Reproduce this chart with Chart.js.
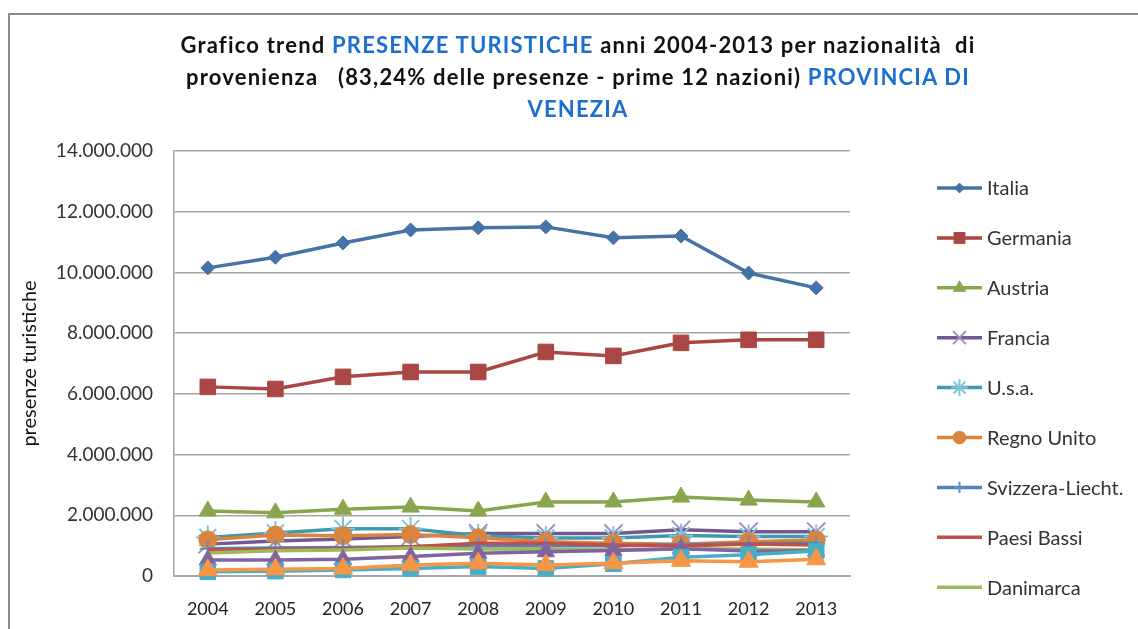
<!DOCTYPE html>
<html lang="it">
<head>
  <meta charset="UTF-8">
  <title>Presenze turistiche Provincia di Venezia 2004-2013</title>
  <script src="https://cdn.jsdelivr.net/npm/chart.js@4"></script>
  <style>
    html, body { margin: 0; padding: 0; background: #fff; overflow: hidden; }
    body { width: 1138px; height: 629px; position: relative; font-family: Lato, 'Open Sans', sans-serif; }
    .frame {
      position: absolute; left: 8px; top: 13px; width: 1200px; height: 700px;
      border: 2px solid #8c8c8c; box-sizing: border-box;
    }
    .titolo {
      position: absolute; left: 0; top: 29px; width: 1156px;
      text-align: center; font-weight: bold; font-size: 22px; line-height: 32px; color: #111;
      letter-spacing: 1.2px;
    }
    .titolo .blu { color: #1c6fd1; }
    #grafico { position: absolute; left: 0; top: 0; }
  </style>
</head>
<body>
  <div class="frame"></div>
  <canvas id="grafico" width="1138" height="629"></canvas>
  <div class="titolo">
    Grafico trend <span class="blu">PRESENZE TURISTICHE</span> anni 2004-2013 per nazionalità&nbsp; di<br>
    provenienza&nbsp;&nbsp; (83,24% delle presenze - prime 12 nazioni) <span class="blu">PROVINCIA DI</span><br>
    <span class="blu">VENEZIA</span>
  </div>

  <script>
    // anni e presenze
    const anni = ['2004', '2005', '2006', '2007', '2008', '2009', '2010', '2011', '2012', '2013'];

    const italia     = [10150000, 10500000, 10970000, 11400000, 11470000, 11500000, 11140000, 11200000, 9980000, 9490000];
    const germania   = [6230000, 6160000, 6560000, 6720000, 6720000, 7380000, 7250000, 7680000, 7780000, 7780000];
    const austria    = [2140000, 2080000, 2200000, 2270000, 2140000, 2440000, 2440000, 2600000, 2500000, 2440000];
    const francia    = [1050000, 1150000, 1220000, 1300000, 1400000, 1400000, 1400000, 1520000, 1460000, 1460000];
    const usa        = [1270000, 1420000, 1560000, 1560000, 1330000, 1250000, 1250000, 1330000, 1300000, 1300000];
    const regnoUnito = [1190000, 1350000, 1330000, 1370000, 1260000, 1130000, 1080000, 1050000, 1130000, 1190000];
    const svizzera   = [900000, 920000, 940000, 960000, 1000000, 1000000, 1000000, 1030000, 1060000, 1080000];
    const paesiBassi = [860000, 880000, 900000, 960000, 1080000, 1080000, 1020000, 990000, 1050000, 1020000];
    const danimarca  = [760000, 830000, 860000, 920000, 890000, 890000, 860000, 890000, 890000, 860000];
    const belgio     = [530000, 530000, 550000, 640000, 750000, 800000, 840000, 900000, 820000, 820000];
    const russia     = [140000, 160000, 200000, 250000, 310000, 250000, 400000, 620000, 700000, 820000];
    const spagna     = [200000, 220000, 250000, 360000, 420000, 360000, 420000, 500000, 470000, 550000];

    const yTicks = [0, 2000000, 4000000, 6000000, 8000000, 10000000, 12000000, 14000000];

    function serie(label, data, color, style, radius, markerColor, markerWidth) {
      return {
        label: label,
        data: data,
        borderColor: color,
        backgroundColor: color,
        borderWidth: 3.5,
        tension: 0,
        clip: false,
        pointStyle: style,
        pointRadius: radius,
        pointHoverRadius: radius,
        pointBackgroundColor: markerColor || color,
        pointBorderColor: markerColor || color,
        pointBorderWidth: markerWidth || 1
      };
    }

    const datasets = [
      serie('Italia', italia, '#4572a7', 'rectRot', 7),
      serie('Germania', germania, '#aa4643', 'rect', 11),
      serie('Austria', austria, '#89a54e', 'triangle', 10),
      serie('Francia', francia, '#71588f', 'crossRot', 13, '#a292c0', 2),
      serie('U.s.a.', usa, '#4198af', 'star', 12, '#7cc4d8', 2),
      serie('Regno Unito', regnoUnito, '#db843d', 'circle', 9),
      serie('Svizzera-Liecht.', svizzera, '#4f81bd', 'cross', 8, '#5b8fd0', 2),
      serie('Paesi Bassi', paesiBassi, '#c0504d', 'circle', 0),
      serie('Danimarca', danimarca, '#9bbb59', 'circle', 0),
      serie('Belgio', belgio, '#8064a2', 'triangle', 10),
      serie('Russia', russia, '#4bacc6', 'rect', 11),
      serie('Spagna', spagna, '#f79646', 'triangle', 11)
    ];
    // come in Excel: le ultime serie disegnate sopra
    datasets.forEach((d, i) => { d.order = datasets.length - i; });

    // legenda laterale (solo le prime 9 voci, come nell'originale)
    const legendaLaterale = {
      id: 'legendaLaterale',
      afterDraw(chart, args, opts) {
        const ctx = chart.ctx;
        const x0 = chart.chartArea.right + opts.offsetX;
        let y = chart.chartArea.top + opts.offsetY;
        ctx.save();
        chart.data.datasets.slice(0, opts.count).forEach(ds => {
          ctx.strokeStyle = ds.borderColor;
          ctx.lineWidth = ds.borderWidth;
          ctx.beginPath();
          ctx.moveTo(x0, y);
          ctx.lineTo(x0 + 45, y);
          ctx.stroke();
          if (ds.pointRadius > 0) {
            ctx.fillStyle = ds.pointBackgroundColor;
            ctx.strokeStyle = ds.pointBorderColor;
            ctx.lineWidth = ds.pointBorderWidth;
            Chart.helpers.drawPoint(ctx, {
              pointStyle: ds.pointStyle,
              radius: ds.pointRadius * 0.7,
              rotation: 0,
              borderWidth: ds.pointBorderWidth
            }, x0 + 22.5, y);
          }
          ctx.fillStyle = '#333';
          ctx.font = '20px Lato';
          ctx.textBaseline = 'middle';
          ctx.textAlign = 'left';
          ctx.fillText(ds.label, x0 + 50, y + 1);
          y += opts.step;
        });
        ctx.restore();
      }
    };

    const ctx = document.getElementById('grafico').getContext('2d');
    new Chart(ctx, {
      type: 'line',
      data: { labels: anni, datasets: datasets },
      plugins: [legendaLaterale],
      options: {
        responsive: false,
        animation: false,
        layout: { padding: { top: 151, left: 0, right: 288, bottom: 0 } },
        plugins: {
          legend: { display: false },
          title: { display: false },
          tooltip: { enabled: false },
          legendaLaterale: { offsetX: 87, offsetY: 37, step: 49.9, count: 9 }
        },
        scales: {
          x: {
            offset: true,
            grid: { display: false, drawTicks: false },
            border: { display: true, color: '#a6a6a6', width: 2 },
            ticks: { color: '#222', font: { family: 'Lato', size: 18 }, padding: 22, maxRotation: 0 },
            afterFit: s => { s.height = 53; }
          },
          y: {
            min: 0,
            max: 14000000,
            afterBuildTicks: s => { s.ticks = yTicks.map(v => ({ value: v })); },
            grid: { color: '#a6a6a6', lineWidth: 1.5, drawTicks: false },
            border: { display: true, color: '#a6a6a6', width: 1.5 },
            ticks: {
              color: '#333',
              font: { family: 'Lato', size: 19 },
              padding: 21,
              callback: v => String(v).replace(/\B(?=(\d{3})+(?!\d))/g, '.')
            },
            title: {
              display: true,
              text: 'presenze turistiche',
              color: '#111',
              font: { family: 'Lato', size: 20 },
              padding: { top: 18, bottom: 0 }
            },
            afterFit: s => { s.width = 174; }
          }
        }
      }
    });
  </script>
</body>
</html>
